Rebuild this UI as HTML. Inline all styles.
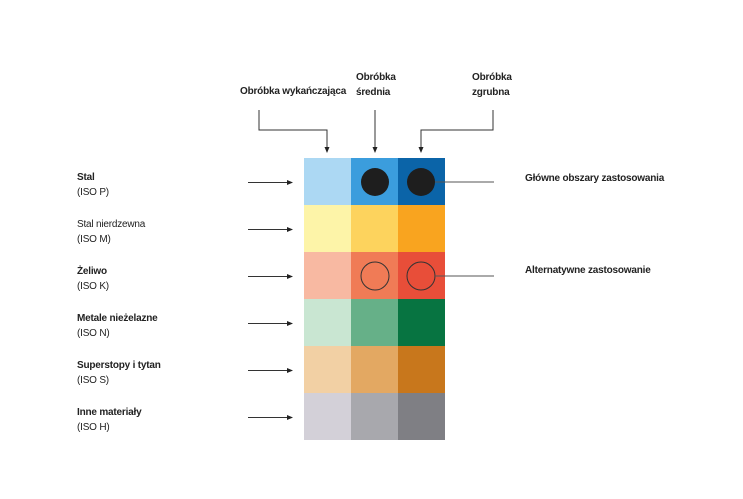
<!DOCTYPE html>
<html><head><meta charset="utf-8"><style>
html,body{margin:0;padding:0;background:#fff}
body{width:743px;height:499px;overflow:hidden;position:relative;font-family:"Liberation Sans",sans-serif;color:#222}
.t{position:absolute;font-size:10px;line-height:15px;white-space:nowrap;letter-spacing:-0.2px}
b{font-weight:bold}
</style></head><body>
<svg width="743" height="499" style="position:absolute;left:0;top:0">
<defs><marker id="a" markerWidth="6" markerHeight="6" refX="5" refY="3" orient="auto" markerUnits="userSpaceOnUse"><path d="M0,0.5 L6,3 L0,5.5z" fill="#222"/></marker></defs>
<g>
<rect x="304" y="158" width="47" height="47" fill="#acd8f3"/>
<rect x="351" y="158" width="47" height="47" fill="#3b9ddd"/>
<rect x="398" y="158" width="47" height="47" fill="#0b64a8"/>
<rect x="304" y="205" width="47" height="47" fill="#fdf4a8"/>
<rect x="351" y="205" width="47" height="47" fill="#fdd35d"/>
<rect x="398" y="205" width="47" height="47" fill="#f9a41f"/>
<rect x="304" y="252" width="47" height="47" fill="#f8b9a2"/>
<rect x="351" y="252" width="47" height="47" fill="#f07b56"/>
<rect x="398" y="252" width="47" height="47" fill="#e84e39"/>
<rect x="304" y="299" width="47" height="47" fill="#c9e6d2"/>
<rect x="351" y="299" width="47" height="47" fill="#66b088"/>
<rect x="398" y="299" width="47" height="47" fill="#077441"/>
<rect x="304" y="346" width="47" height="47" fill="#f2d0a4"/>
<rect x="351" y="346" width="47" height="47" fill="#e3a862"/>
<rect x="398" y="346" width="47" height="47" fill="#c8771c"/>
<rect x="304" y="393" width="47" height="47" fill="#d3d0d8"/>
<rect x="351" y="393" width="47" height="47" fill="#a8a8ad"/>
<rect x="398" y="393" width="47" height="47" fill="#7f7f84"/>
</g>
<circle cx="375" cy="182" r="14" fill="#1e1e1e"/>
<circle cx="421" cy="182" r="14" fill="#1e1e1e"/>
<circle cx="375" cy="276" r="14" fill="none" stroke="#333" stroke-width="1"/>
<circle cx="421" cy="276" r="14" fill="none" stroke="#333" stroke-width="1"/>
<g stroke="#333" stroke-width="1" fill="none">
<path d="M259,110 V130 H327 V152" marker-end="url(#a)"/>
<path d="M375,110 V152" marker-end="url(#a)"/>
<path d="M493,110 V130 H421 V152" marker-end="url(#a)"/>
<path d="M435,182 H494" stroke="#555"/>
<path d="M435,276 H494" stroke="#555"/>
<path d="M248,182.5 H292" marker-end="url(#a)"/>
<path d="M248,229.5 H292" marker-end="url(#a)"/>
<path d="M248,276.5 H292" marker-end="url(#a)"/>
<path d="M248,323.5 H292" marker-end="url(#a)"/>
<path d="M248,370.5 H292" marker-end="url(#a)"/>
<path d="M248,417.5 H292" marker-end="url(#a)"/>
</g>
</svg>
<div class="t" style="left:240px;top:84px"><b>Obróbka wykańczająca</b></div>
<div class="t" style="left:356px;top:70px"><b>Obróbka<br>średnia</b></div>
<div class="t" style="left:472px;top:70px"><b>Obróbka<br>zgrubna</b></div>
<div class="t" style="left:525px;top:171px"><b>Główne obszary zastosowania</b></div>
<div class="t" style="left:525px;top:263px"><b>Alternatywne zastosowanie</b></div>
<div class="t" style="left:77px;top:170px"><b>Stal</b><br>(ISO P)</div>
<div class="t" style="left:77px;top:217px">Stal nierdzewna<br>(ISO M)</div>
<div class="t" style="left:77px;top:264px"><b>Żeliwo</b><br>(ISO K)</div>
<div class="t" style="left:77px;top:311px"><b>Metale nieżelazne</b><br>(ISO N)</div>
<div class="t" style="left:77px;top:358px"><b>Superstopy i tytan</b><br>(ISO S)</div>
<div class="t" style="left:77px;top:405px"><b>Inne materiały</b><br>(ISO H)</div>
</body></html>
